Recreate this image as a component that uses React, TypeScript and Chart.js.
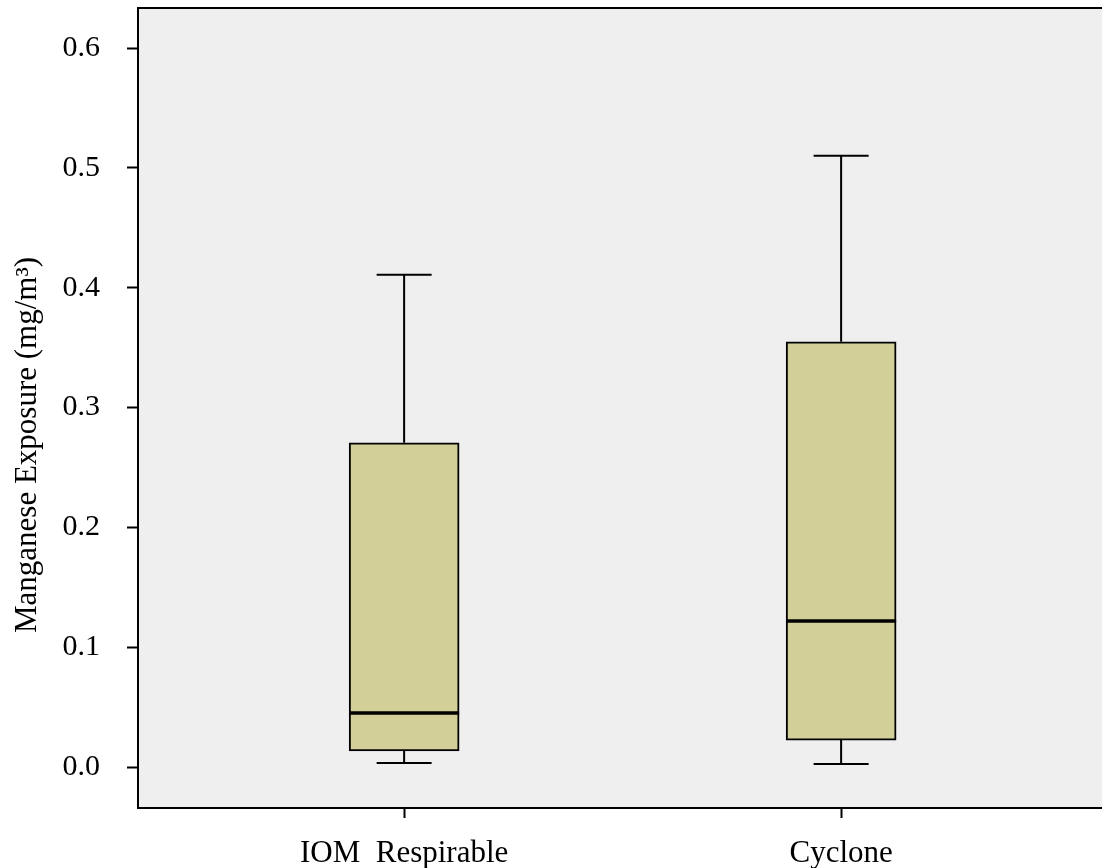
import React, { useEffect, useRef } from "react";
import { Chart, registerables } from "chart.js";

Chart.register(...registerables);

const categories = ["IOM  Respirable", "Cyclone"];
const whiskerLow = [0.0033, 0.0025];
const quartile1 = [0.0134, 0.0225];
const medians = [0.0451, 0.1219];
const quartile3 = [0.2705, 0.3548];
const whiskerHigh = [0.4107, 0.51];
const yTickValues = [0, 0.1, 0.2, 0.3, 0.4, 0.5, 0.6];
const yTitle = "Manganese Exposure (mg/m³)";

const FONT = '"Liberation Serif", "Times New Roman", serif';

const boxPlugin = {
  id: "boxExtras",
  beforeDraw(chart: any) {
    const { ctx, chartArea } = chart;
    ctx.save();
    ctx.fillStyle = "#efefef";
    ctx.fillRect(chartArea.left, chartArea.top, chartArea.right - chartArea.left, chartArea.bottom - chartArea.top);
    ctx.restore();
  },
  afterDatasetsDraw(chart: any) {
    const { ctx } = chart;
    const xs = chart.scales.x;
    const ys = chart.scales.y;
    const meta = chart.getDatasetMeta(0);
    ctx.save();
    ctx.strokeStyle = "#000";
    categories.forEach((_, i) => {
      const x = xs.getPixelForValue(i);
      const bar = meta.data[i];
      const halfBox = bar ? bar.width / 2 : 55;
      const capHalf = halfBox / 2;
      const yMin = ys.getPixelForValue(whiskerLow[i]);
      const yQ1 = ys.getPixelForValue(quartile1[i]);
      const yQ3 = ys.getPixelForValue(quartile3[i]);
      const yMax = ys.getPixelForValue(whiskerHigh[i]);
      const yMed = ys.getPixelForValue(medians[i]);
      ctx.lineWidth = 2;
      ctx.beginPath();
      ctx.moveTo(x, yQ3);
      ctx.lineTo(x, yMax);
      ctx.moveTo(x - capHalf, yMax);
      ctx.lineTo(x + capHalf, yMax);
      ctx.moveTo(x, yQ1);
      ctx.lineTo(x, yMin);
      ctx.moveTo(x - capHalf, yMin);
      ctx.lineTo(x + capHalf, yMin);
      ctx.stroke();
      ctx.lineWidth = 3.5;
      ctx.beginPath();
      ctx.moveTo(x - halfBox, yMed);
      ctx.lineTo(x + halfBox, yMed);
      ctx.stroke();
    });
    ctx.restore();
  },
  afterDraw(chart: any) {
    const { ctx, chartArea } = chart;
    ctx.save();
    ctx.strokeStyle = "#000";
    ctx.lineWidth = 2;
    ctx.beginPath();
    ctx.moveTo(chartArea.right + 2, chartArea.top);
    ctx.lineTo(chartArea.left, chartArea.top);
    ctx.lineTo(chartArea.left, chartArea.bottom);
    ctx.lineTo(chartArea.right + 2, chartArea.bottom);
    ctx.stroke();
    // y-axis title
    ctx.translate(28, 445);
    ctx.rotate(-Math.PI / 2);
    ctx.fillStyle = "#000";
    ctx.font = `31px ${FONT}`;
    ctx.textAlign = "center";
    ctx.textBaseline = "middle";
    ctx.fillText(yTitle, 0, 0);
    ctx.restore();
  },
};

export default function App() {
  const ref = useRef<HTMLCanvasElement | null>(null);

  useEffect(() => {
    document.body.style.margin = "0";
    const canvas = ref.current;
    if (!canvas) return;
    const chart = new Chart(canvas, {
      type: "bar",
      data: {
        datasets: [
          {
            data: categories.map((_, i) => ({ x: i, y: [quartile1[i], quartile3[i]] })) as any,
            backgroundColor: "#d3cf99",
            borderColor: "#000",
            borderWidth: 2,
            borderSkipped: false,
            barThickness: 110,
          },
        ],
      },
      options: {
        responsive: false,
        animation: false,
        devicePixelRatio: 1,
        events: [],
        layout: { padding: { top: 8, right: 0, bottom: 0, left: 0 } },
        plugins: { legend: { display: false }, tooltip: { enabled: false } },
        scales: {
          x: {
            type: "linear",
            offset: false,
            min: -0.609,
            max: 1.597,
            afterBuildTicks: (scale: any) => {
              scale.ticks = categories.map((_, i) => ({ value: i }));
            },
            afterFit: (scale: any) => {
              scale.height = 60;
              scale.paddingLeft = 0;
              scale.paddingRight = 0;
            },
            ticks: {
              autoSkip: false,
              maxRotation: 0,
              padding: 17,
              color: "#000",
              font: { family: FONT, size: 31 },
              callback: (v: any) => categories[Math.round(Number(v))] ?? "",
            },
            grid: {
              offset: false,
              drawOnChartArea: false,
              drawTicks: true,
              tickLength: 10,
              tickWidth: 2,
              tickColor: "#000",
            },
            border: { display: false },
          },
          y: {
            type: "linear",
            min: -0.0342,
            max: 0.6334,
            afterBuildTicks: (scale: any) => {
              scale.ticks = yTickValues.map((v) => ({ value: v }));
            },
            afterFit: (scale: any) => {
              scale.width = 138;
              scale.paddingTop = 0;
              scale.paddingBottom = 0;
            },
            ticks: {
              padding: 27,
              color: "#000",
              font: { family: FONT, size: 30 },
              callback: (v: any) => Number(v).toFixed(1),
            },
            grid: {
              drawOnChartArea: false,
              drawTicks: true,
              tickLength: 11,
              tickWidth: 2,
              tickColor: "#000",
            },
            border: { display: false },
          },
        },
      },
      plugins: [boxPlugin],
    });
    return () => chart.destroy();
  }, []);

  return (
    <div style={{ width: 1102, height: 868, position: "relative" }}>
      <canvas ref={ref} width={1102} height={868} style={{ display: "block" }} />
    </div>
  );
}
